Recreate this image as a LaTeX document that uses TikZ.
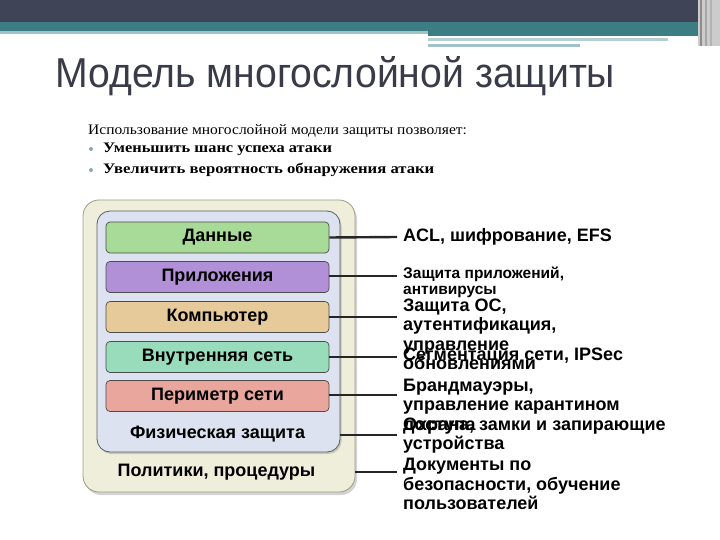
\documentclass[tikz,border=0pt]{standalone}
\usepackage{fontspec}
\setmainfont{Liberation Sans}
\newfontfamily\serifru{Liberation Serif}
\usetikzlibrary{shadows}
\definecolor{cDark}{HTML}{3F4456}
\definecolor{cTeal}{HTML}{3C7D84}
\definecolor{cTealL}{HTML}{A2C2C6}
\definecolor{cTitle}{HTML}{3A3B48}
\definecolor{cOuter}{HTML}{EEEEDA}
\definecolor{cOuterB}{HTML}{9C9C88}
\definecolor{cInner}{HTML}{DCE2EF}
\definecolor{cInnerB}{HTML}{5A5C6C}
\definecolor{cGreen}{HTML}{A9DB98}
\definecolor{cPurple}{HTML}{B290D8}
\definecolor{cTan}{HTML}{E6CA9A}
\definecolor{cMint}{HTML}{98DCBB}
\definecolor{cPink}{HTML}{E8A69C}
\definecolor{cBullet}{HTML}{8AA8B0}
\tikzset{
  layer/.style={draw=black!70, line width=0.7pt, rounded corners=4pt,
    minimum width=223pt, minimum height=31pt, inner sep=0pt,
    font=\fontsize{18}{20}\selectfont\bfseries},
  desc/.style={anchor=west, align=left, inner sep=0pt,
    font=\fontsize{18}{19.5}\selectfont\bfseries},
  conn/.style={draw=black!85, line width=2.4pt},
  intro/.style={anchor=west, inner sep=0pt, font=\serifru\fontsize{14.5}{16}\selectfont},
  introb/.style={intro, font=\serifru\bfseries\fontsize{14.5}{16}\selectfont},
}
\begin{document}
\begin{tikzpicture}[x=1pt,y=-1pt]
\useasboundingbox (0,0) rectangle (720,540);
% header bars
\fill[cDark] (0,0) rectangle (720,22);
\fill[cTeal] (0,22) rectangle (720,31);
\fill[cTealL] (0,31) rectangle (428,34);
\fill[cTeal] (428,31) rectangle (700,36);
\fill[cTealL!80!white] (428,38) rectangle (668,41);
\fill[cTealL] (428,44) rectangle (580,47);
\fill[black!20] (698,0) rectangle (720,46);
\fill[black!45] (700,0) rectangle (702,46);
\fill[black!35] (705,0) rectangle (707,46);
\fill[black!30] (710,0) rectangle (712,46);
% title
\node[anchor=base west, inner sep=0pt, text=cTitle] (title) at (55,88)
  {\resizebox{560pt}{31pt}{Модель многослойной защиты}};
% intro
\node[intro] (intro) at (88,131) {\scalebox{1.07}[1]{Использование многослойной модели защиты позволяет:}};
\node[introb] (b1) at (103,149) {\scalebox{1.13}[1]{Уменьшить шанс успеха атаки}};
\node[introb] (b2) at (103,170) {\scalebox{1.15}[1]{Увеличить вероятность обнаружения атаки}};
\fill[cBullet] (91,149) circle (2);
\fill[cBullet] (91,170) circle (2);
% boxes
\node[draw=cOuterB, fill=cOuter, rounded corners=16pt, line width=0.8pt,
  drop shadow={shadow xshift=2pt, shadow yshift=-3pt, opacity=0.35},
  minimum width=272pt, minimum height=292pt, inner sep=0pt] (outer) at (219,346) {};
\node[draw=cInnerB, fill=cInner, rounded corners=13pt, line width=0.8pt,
  drop shadow={shadow xshift=1.5pt, shadow yshift=-2pt, opacity=0.35},
  minimum width=243pt, minimum height=241pt, inner sep=0pt] (inner) at (218.5,331.5) {};
\node[layer, fill=cGreen] (l1) at (217.5,237.5) {Данные};
\node[layer, fill=cPurple] (l2) at (217.5,277) {Приложения};
\node[layer, fill=cTan] (l3) at (217.5,317) {Компьютер};
\node[layer, fill=cMint] (l4) at (217.5,357) {Внутренняя сеть};
\node[layer, fill=cPink] (l5) at (217.5,396) {Периметр сети};
\node[font=\fontsize{18}{20}\selectfont\bfseries, inner sep=0pt] (l6) at (217.5,434) {Физическая защита};
\node[font=\fontsize{18}{20}\selectfont\bfseries, inner sep=0pt] (l7) at (216.5,472) {Политики, процедуры};
% descriptions
\node[desc] (d1) at (403,237) {ACL, шифрование, EFS};
\node[desc, font=\fontsize{15.5}{16}\selectfont\bfseries] (d2) at (403,282) {Защита приложений,\\антивирусы};
\node[desc] (d3) at (403,334.5) {Защита ОС,\\аутентификация,\\управление\\обновлениями};
\node[desc] (d4) at (403,356) {Сегментация сети, IPSec};
\node[desc] (d5) at (403,406.5) {Брандмауэры,\\управление карантином\\доступа};
\node[desc] (d6) at (403,435.5) {Охрана, замки и запирающие\\устройства};
\node[desc] (d7) at (403,484) {Документы по\\безопасности, обучение\\пользователей};
% connectors
\coordinate (e1) at (397,237);
\coordinate (e2) at (397,276);
\coordinate (e3) at (397,317);
\coordinate (e4) at (397,357);
\coordinate (e5) at (397,395);
\coordinate (e6) at (397,435);
\coordinate (e7) at (397,472);
\draw[conn] (l1.east) -- (e1);
\draw[conn] (l2.east |- e2) -- (e2);
\draw[conn] (l3.east) -- (e3);
\draw[conn] (l4.east) -- (e4);
\draw[conn] (l5.east |- e5) -- (e5);
\draw[conn] (inner.east |- e6) -- (e6);
\draw[conn] (outer.east |- e7) -- (e7);
\end{tikzpicture}
\end{document}
